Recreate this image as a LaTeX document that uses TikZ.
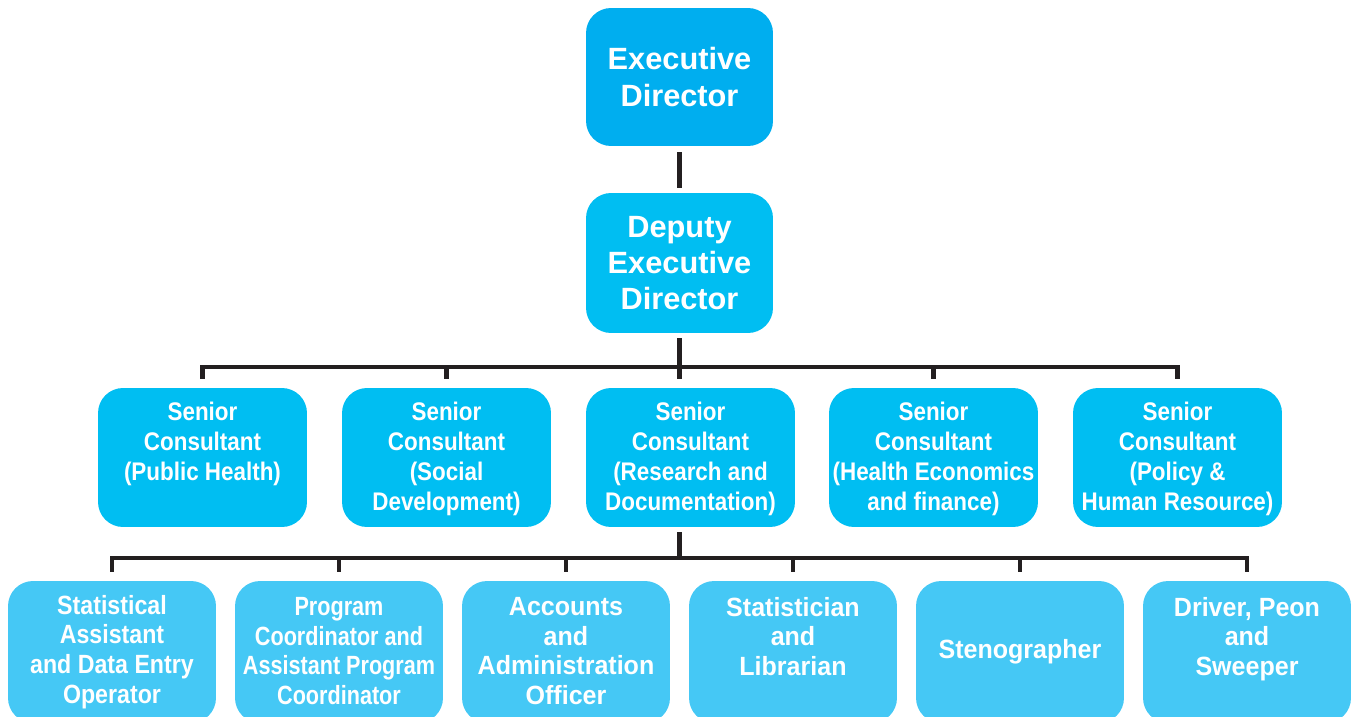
\documentclass[tikz,border=0pt]{standalone}
\usepackage{fontspec}
\setmainfont{Liberation Sans}
\newfontfamily\narrowsans[FakeStretch=0.88]{Liberation Sans}
\newfontfamily\tightsans[FakeStretch=0.82]{Liberation Sans}
\newfontfamily\widesans[FakeStretch=0.95]{Liberation Sans}
\usetikzlibrary{positioning}
\definecolor{edblue}{HTML}{00AEEF}
\definecolor{scblue}{HTML}{00BEF2}
\definecolor{stblue}{HTML}{45C8F5}
\definecolor{linegray}{HTML}{231F20}
\tikzset{
  box/.style={rounded corners=0.5cm, draw=none, inner sep=0pt},
  topbox/.style={box, fill=#1, minimum width=3.74cm, text=white, align=center,
    font=\fontsize{17.5}{20.6}\selectfont\bfseries},
  seniorbox/.style={box, fill=scblue, minimum width=4.18cm, minimum height=2.78cm},
  staffbox/.style={box, fill=stblue, minimum width=4.16cm, minimum height=2.84cm},
  seniortext/.style={anchor=north, inner sep=0pt, align=center, text=white,
    font=\narrowsans\fontsize{14.5}{17}\selectfont\bfseries},
  stafftext/.style={seniortext, font=#1\fontsize{15}{17}\selectfont\bfseries},
  stafftext/.default=\widesans,
  conn/.style={draw=linegray, line width=2.3pt},
}
\begin{document}
\begin{tikzpicture}[x=0.02cm, y=-0.02cm]
  \useasboundingbox (0,0) rectangle (1353,717);

  % Directors
  \node[topbox=edblue, minimum height=2.76cm] (ed) at (679.5,77) {Executive\\Director};
  \node[topbox=scblue, minimum height=2.8cm] (dd) at (679.5,263) {Deputy\\Executive\\Director};

  % Senior consultants
  \node[seniorbox] (s1) at (202.5,457.5) {};
  \node[seniorbox] (s2) at (446.5,457.5) {};
  \node[seniorbox] (s3) at (690.5,457.5) {};
  \node[seniorbox] (s4) at (933.5,457.5) {};
  \node[seniorbox] (s5) at (1177.5,457.5) {};
  \node[seniortext] (s1t) at ([yshift=-0.28cm]s1.north) {Senior\\Consultant\\(Public Health)};
  \node[seniortext] (s2t) at ([yshift=-0.28cm]s2.north) {Senior\\Consultant\\(Social\\Development)};
  \node[seniortext] (s3t) at ([yshift=-0.28cm]s3.north) {Senior\\Consultant\\(Research and\\Documentation)};
  \node[seniortext] (s4t) at ([yshift=-0.28cm]s4.north) {Senior\\Consultant\\(Health Economics\\and finance)};
  \node[seniortext] (s5t) at ([yshift=-0.28cm]s5.north) {Senior\\Consultant\\(Policy \&\\Human Resource)};

  % Staff
  \node[staffbox] (b1) at (112,652) {};
  \node[staffbox] (b2) at (339,652) {};
  \node[staffbox] (b3) at (566,652) {};
  \node[staffbox] (b4) at (793,652) {};
  \node[staffbox] (b5) at (1020,652) {};
  \node[staffbox] (b6) at (1247,652) {};
  \node[stafftext=\narrowsans] (b1t) at ([yshift=-0.28cm]b1.north) {Statistical\\Assistant\\and Data Entry\\Operator};
  \node[stafftext=\tightsans] (b2t) at ([yshift=-0.32cm]b2.north) {Program\\Coordinator and\\Assistant Program\\Coordinator};
  \node[stafftext] (b3t) at ([yshift=-0.32cm]b3.north) {Accounts\\and\\Administration\\Officer};
  \node[stafftext] (b4t) at ([yshift=-0.32cm]b4.north) {Statistician\\and\\Librarian};
  \node[stafftext] (b5t) at ([yshift=-1.16cm]b5.north) {Stenographer};
  \node[stafftext] (b6t) at ([yshift=-0.32cm]b6.north) {Driver, Peon\\and\\Sweeper};

  % Connectors
  \coordinate (bus1) at (679.5,367);
  \coordinate (bus2) at (679.5,558);
  \draw[conn, shorten <=0.12cm, shorten >=0.1cm] (ed) -- (dd);
  \draw[conn, shorten <=0.1cm, shorten >=0.18cm] (dd.south) -- (dd.south |- s3.north);
  \draw[conn, shorten <=0.18cm, shorten >=0.18cm] (s1.north) -- (s1.north |- bus1) -- (s5.north |- bus1) -- (s5.north);
  \foreach \n in {s2,s4} \draw[conn, shorten >=0.18cm] (\n.north |- bus1) -- (\n.north);
  \draw[conn, shorten <=0.1cm] (bus2 |- s3.south) -- (bus2);
  \draw[conn, shorten <=0.18cm, shorten >=0.18cm] (b1.north) -- (b1.north |- bus2) -- (b6.north |- bus2) -- (b6.north);
  \foreach \n in {b2,b3,b4,b5} \draw[conn, shorten >=0.18cm] (\n.north |- bus2) -- (\n.north);
\end{tikzpicture}
\end{document}
